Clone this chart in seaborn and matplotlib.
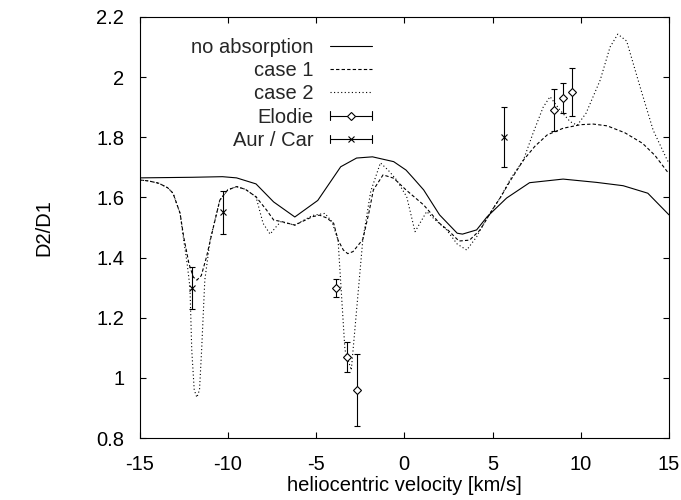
import numpy as np
import pandas as pd
import seaborn as sns
import matplotlib.pyplot as plt
from matplotlib.lines import Line2D
from matplotlib.legend_handler import HandlerBase

# model curves: D2/D1 ratio vs heliocentric velocity
v_none = [-15, -12, -10.3, -9.5, -8.4, -7.4, -6.2, -4.9, -3.6, -2.7, -1.8, -0.6, 0.1, 0.5,
          1.1, 2.0, 3.0, 3.3, 4.1, 4.7, 5.8, 7.1, 9.0, 10.9, 12.4, 13.8, 15]
d_none = [1.665, 1.667, 1.669, 1.665, 1.645, 1.585, 1.535, 1.59, 1.702, 1.731, 1.735, 1.719, 1.691, 1.665,
          1.625, 1.542, 1.481, 1.478, 1.492, 1.536, 1.598, 1.649, 1.661, 1.650, 1.639, 1.614, 1.542]

v_case1 = [-15, -14.5, -13.9, -13.4, -13.1, -12.7, -12.5, -12.2, -11.95, -11.75, -11.5, -11.2, -10.9,
           -10.45, -10.0, -9.5, -9.0, -8.4, -7.8, -7.4, -6.9, -6.2, -5.2, -4.8, -4.4, -4.0, -3.75,
           -3.45, -3.2, -2.9, -2.35, -2.0, -1.75, -1.2, -0.6, 0.1, 1.1, 2.0, 2.5, 3.1, 3.7, 4.3, 5.0,
           5.45, 6.0, 6.75, 7.4, 8.1, 9.0, 10.0, 10.7, 11.5, 12.5, 13.5, 14.2, 14.9, 15]
d_case1 = [1.658, 1.655, 1.647, 1.632, 1.614, 1.547, 1.47, 1.38, 1.335, 1.325, 1.34, 1.403, 1.48,
           1.591, 1.625, 1.636, 1.627, 1.602, 1.558, 1.525, 1.519, 1.508, 1.536, 1.541, 1.532, 1.514, 1.458,
           1.425, 1.413, 1.42, 1.46, 1.55, 1.625, 1.675, 1.664, 1.625, 1.575, 1.514, 1.49, 1.455, 1.458, 1.492, 1.56,
           1.60, 1.655, 1.724, 1.77, 1.808, 1.83, 1.842, 1.844, 1.838, 1.815, 1.78, 1.74, 1.686, 1.68]

v_case2 = [-15, -14.5, -13.9, -13.4, -13.1, -12.7, -12.5, -12.3, -12.14, -12.04, -11.9, -11.75, -11.6,
           -11.48, -11.3, -11.0, -10.45, -10.0, -9.5, -9.0, -8.4, -8.0, -7.6, -7.25, -7.0, -6.2, -5.2,
           -4.5, -4.1, -3.75, -3.36, -3.0, -2.85, -2.35, -1.9, -1.35, -0.9, -0.43, 0.14, 0.61, 1.27,
           1.65, 2.4, 3.0, 3.54, 4.1, 4.3, 5.0, 5.45, 6.0, 6.75, 7.3, 7.87, 8.26, 8.83, 9.4, 9.8, 10.3,
           11.1, 11.66, 12.1, 12.6, 13.36, 14.1, 14.9, 15]
d_case2 = [1.658, 1.655, 1.647, 1.632, 1.614, 1.547, 1.46, 1.38, 1.30, 1.093, 0.96, 0.935, 0.96,
           1.093, 1.325, 1.458, 1.591, 1.625, 1.636, 1.627, 1.602, 1.514, 1.478, 1.503, 1.519, 1.508, 1.54,
           1.547, 1.52, 1.458, 1.093, 1.026, 1.126, 1.458, 1.62, 1.715, 1.69, 1.658, 1.602, 1.486, 1.553,
           1.531, 1.492, 1.445, 1.425, 1.469, 1.492, 1.56, 1.60, 1.66, 1.724, 1.814, 1.90, 1.935, 1.89, 1.852, 1.84, 1.88,
           1.99, 2.10, 2.143, 2.12, 1.968, 1.824, 1.724, 1.715]

# measurements with error bars
elodie_v = [-3.87, -3.26, -2.66, 8.48, 9.0, 9.52]
elodie_d = [1.30, 1.07, 0.96, 1.89, 1.93, 1.95]
elodie_err = [0.03, 0.05, 0.12, 0.07, 0.05, 0.08]

aur_v = [-12.03, -10.27, 5.67]
aur_d = [1.30, 1.55, 1.80]
aur_err = [0.07, 0.07, 0.10]

xticks = [-15, -10, -5, 0, 5, 10, 15]
xtick_labels = ["-15", "-10", "-5", "0", "5", "10", "15"]
yticks = [0.8, 1.0, 1.2, 1.4, 1.6, 1.8, 2.0, 2.2]
ytick_labels = ["0.8", "1", "1.2", "1.4", "1.6", "1.8", "2", "2.2"]

curve_names = ["no absorption", "case 1", "case 2"]

FS = 14.5


class ErrHandler(HandlerBase):
    # gnuplot-like key sample: horizontal bar with end caps and a point in the middle
    def __init__(self, marker, ms):
        super().__init__()
        self.marker = marker
        self.ms = ms

    def create_artists(self, legend, orig, xd, yd, w, h, fs, trans):
        y = h / 2 - yd
        x0, x1 = -xd, -xd + w
        c = h * 0.3
        arts = [Line2D([x0, x1], [y, y], color="black", lw=0.8),
                Line2D([x0, x0], [y - c, y + c], color="black", lw=0.8),
                Line2D([x1, x1], [y - c, y + c], color="black", lw=0.8),
                Line2D([(x0 + x1) / 2], [y], marker=self.marker, ms=self.ms, mfc="white",
                       mec="black", mew=0.8, ls="none")]
        for a in arts:
            a.set_transform(trans)
        return arts


sns.set_theme(style="ticks")
plt.rcParams["font.family"] = ["Liberation Sans", "DejaVu Sans"]
plt.rcParams["axes.unicode_minus"] = False

df = pd.concat([
    pd.DataFrame({"v": v_none, "D": d_none, "curve": curve_names[0]}),
    pd.DataFrame({"v": v_case1, "D": d_case1, "curve": curve_names[1]}),
    pd.DataFrame({"v": v_case2, "D": d_case2, "curve": curve_names[2]}),
], ignore_index=True)

fig = plt.figure(figsize=(6.81, 5.0), dpi=100)
ax = fig.add_axes([139.5 / 681, 62 / 500, 529.5 / 681, 421 / 500])

sns.lineplot(data=df, x="v", y="D", style="curve", style_order=curve_names,
             dashes={"no absorption": "", "case 1": (3, 2), "case 2": (1, 2.2)},
             color="black", lw=0.8, estimator=None, sort=False, legend=False, ax=ax)

ax.errorbar(elodie_v, elodie_d, yerr=elodie_err, fmt="D", ms=4.5, mfc="white", mec="black",
            mew=0.8, ecolor="black", elinewidth=0.8, capsize=2.3, capthick=0.8)
ax.errorbar(aur_v, aur_d, yerr=aur_err, fmt="x", ms=5, mec="black", mew=0.8,
            ecolor="black", elinewidth=0.8, capsize=2.3, capthick=0.8)

ax.set_xlim(-15, 15)
ax.set_ylim(0.8, 2.2)
ax.set_xticks(xticks)
ax.set_xticklabels(xtick_labels)
ax.set_yticks(yticks)
ax.set_yticklabels(ytick_labels)
ax.tick_params(direction="in", length=4.5, width=0.8, colors="black", labelsize=FS,
               top=True, right=True)
ax.tick_params(axis="x", pad=12.5)
ax.tick_params(axis="y", pad=11)
for s in ax.spines.values():
    s.set_linewidth(0.8)
    s.set_color("black")

ax.set_xlabel("heliocentric velocity [km/s]", fontsize=FS, color="black")
ax.set_ylabel("D2/D1", fontsize=FS, color="black")
ax.xaxis.set_label_coords(0.5, -0.09)
ax.yaxis.set_label_coords(-0.162, 0.5)

lines = ax.get_lines()[:3]
h_el = Line2D([], [])
h_au = Line2D([], [])
handles = lines + [h_el, h_au]
labels = curve_names + ["Elodie", "Aur / Car"]
ax.legend(handles, labels, loc="upper right", bbox_to_anchor=(372 / 681, 1 - 38 / 500),
          bbox_transform=fig.transFigure, frameon=False, markerfirst=False,
          fontsize=FS, handlelength=2.09, handletextpad=0.8, labelspacing=0.21,
          borderpad=0, borderaxespad=0,
          handler_map={h_el: ErrHandler("D", 4.5), h_au: ErrHandler("x", 5)})

fig.savefig("out.png", dpi=100)
